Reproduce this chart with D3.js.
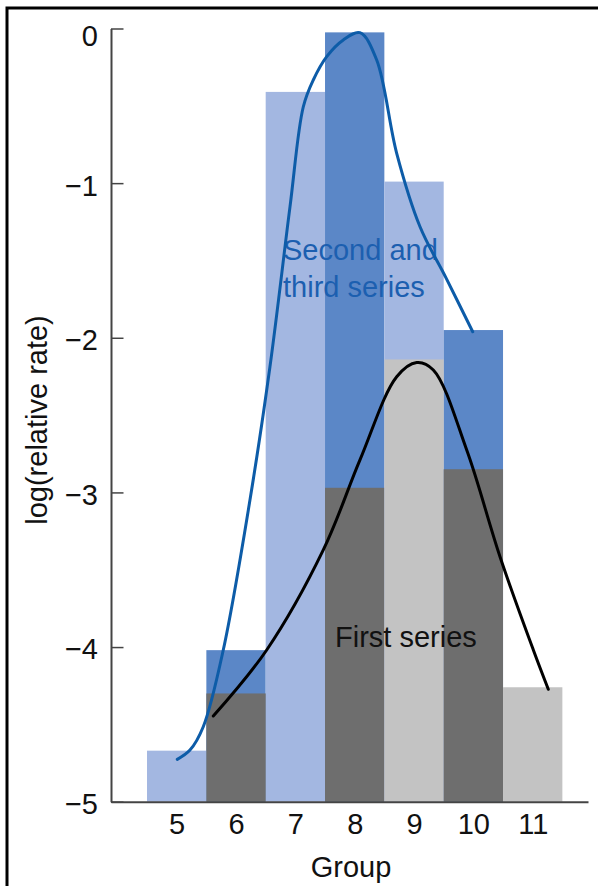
<!DOCTYPE html>
<html>
<head>
<meta charset="utf-8">
<script src="https://cdn.jsdelivr.net/npm/d3@7"></script>
<style>
  html, body { margin: 0; padding: 0; background: #fff; }
  svg { display: block; font-family: "Liberation Sans", Arial, Helvetica, sans-serif; }
</style>
</head>
<body>
<svg id="chart" width="598" height="886"></svg>
<script>
// ---- data ----
const groups = [5, 6, 7, 8, 9, 10, 11];
const blueValues = [-4.67, -4.02, -0.41, -0.025, -0.99, -1.95, null];   // second & third series
const grayValues = [null, -4.30, null, -2.97, -2.14, -2.85, -4.26];      // first series
const yTicks = [0, -1, -2, -3, -4, -5];
const xTickLabels = ["5", "6", "7", "8", "9", "10", "11"];

const blueCurveX = [5.010, 5.224, 5.448, 5.785, 6.235, 6.572, 6.910, 7.134, 7.302, 7.528, 7.808, 8.089, 8.371, 8.708, 9.101, 9.539, 9.989];
const blueCurveY = [-4.726, -4.666, -4.515, -4.019, -3.049, -2.187, -1.152, -0.506, -0.333, -0.182, -0.074, -0.027, -0.204, -0.807, -1.282, -1.613, -1.961];
const blackCurveX = [5.617, 6.517, 7.471, 8.089, 8.708, 9.045, 9.325, 9.888, 10.449, 11.011, 11.263];
const blackCurveY = [-4.446, -4.019, -3.372, -2.790, -2.252, -2.160, -2.208, -2.726, -3.416, -4.019, -4.273];

const xTitle = "Group";
const yTitle = "log(relative rate)";
const blueLabel = ["Second and", "third series"];
const grayLabel = "First series";

// ---- styles ----
const FONT = 29;
const col = {
  blueLight: "#a3b7e1", blueDark: "#5b87c7",
  grayDark: "#6e6e6e", grayLight: "#c3c3c3",
  blueLine: "#0d5ca8", blackLine: "#000",
  blueText: "#1c5fb0", text: "#111", axis: "#444"
};

const svg = d3.select("#chart");

// frame (partially cropped in original)
svg.append("path").attr("d", "M7,900V8H600").attr("fill", "none").attr("stroke", "#000").attr("stroke-width", 3);

const x = d3.scaleLinear().domain([3.893, 11.932]).range([111, 588]);
const y = d3.scaleLinear().domain([-5, 0]).range([801.7, 28.5]);

// bars: blue
const blueData = groups.map((g, i) => ({ g, v: blueValues[i] })).filter(d => d.v !== null);
svg.append("g").selectAll("rect").data(blueData).join("rect")
  .attr("x", d => x(d.g - 0.5))
  .attr("width", d => x(d.g + 0.5) - x(d.g - 0.5))
  .attr("y", d => y(d.v))
  .attr("height", d => y(-5) - y(d.v))
  .attr("fill", d => d.g % 2 === 1 ? col.blueLight : col.blueDark);

// bars: gray
const grayData = groups.map((g, i) => ({ g, v: grayValues[i] })).filter(d => d.v !== null);
svg.append("g").selectAll("rect").data(grayData).join("rect")
  .attr("x", d => x(d.g - 0.5))
  .attr("width", d => x(d.g + 0.5) - x(d.g - 0.5))
  .attr("y", d => y(d.v))
  .attr("height", d => y(-5) - y(d.v))
  .attr("fill", d => d.g % 2 === 1 ? col.grayLight : col.grayDark);

// series labels
const bl = svg.append("text").attr("x", 283).attr("y", 260)
  .attr("font-size", FONT).attr("fill", col.blueText);
bl.selectAll("tspan").data(blueLabel).join("tspan")
  .attr("x", 283).attr("dy", (d, i) => i === 0 ? 0 : 36.5).text(d => d);

svg.append("text").attr("x", 335).attr("y", 647)
  .attr("font-size", FONT).attr("fill", col.text).text(grayLabel);

// curves
const line = d3.line().x(d => x(d[0])).y(d => y(d[1])).curve(d3.curveCatmullRom.alpha(0.5));
svg.append("path").datum(blueCurveX.map((v, i) => [v, blueCurveY[i]]))
  .attr("d", line).attr("fill", "none").attr("stroke", col.blueLine)
  .attr("stroke-width", 3).attr("stroke-linecap", "round");
svg.append("path").datum(blackCurveX.map((v, i) => [v, blackCurveY[i]]))
  .attr("d", line).attr("fill", "none").attr("stroke", col.blackLine)
  .attr("stroke-width", 3).attr("stroke-linecap", "round");

// y axis
const yAxis = d3.axisLeft(y).tickValues(yTicks).tickSize(-12.5).tickSizeOuter(0).tickPadding(13)
  .tickFormat(d => d === 0 ? "0" : "\u2212" + Math.abs(d));
const gy = svg.append("g").attr("transform", "translate(111,0)").call(yAxis);
gy.select(".domain").attr("stroke", col.axis).attr("stroke-width", 2);
gy.selectAll(".tick line").attr("stroke", col.axis).attr("stroke-width", 1.5);
gy.selectAll(".tick text").attr("font-size", FONT).attr("font-family", null).attr("fill", col.text)
  .attr("dy", d => d === 0 ? "0.57em" : "0.41em");

// x axis
const xAxis = d3.axisBottom(x).tickValues(groups).tickSize(0).tickSizeOuter(0).tickPadding(12)
  .tickFormat((d, i) => xTickLabels[i]);
const gx = svg.append("g").attr("transform", "translate(0,801.7)").call(xAxis);
gx.select(".domain").attr("stroke", col.axis).attr("stroke-width", 2);
gx.selectAll(".tick text").attr("font-size", FONT).attr("font-family", null).attr("fill", col.text);

// titles
svg.append("text").attr("x", 351).attr("y", 876.5).attr("text-anchor", "middle")
  .attr("font-size", FONT).attr("fill", col.text).text(xTitle);
svg.append("text").attr("transform", "translate(46.5,420) rotate(-90)").attr("text-anchor", "middle")
  .attr("font-size", FONT).attr("fill", col.text).text(yTitle);
</script>
</body>
</html>
